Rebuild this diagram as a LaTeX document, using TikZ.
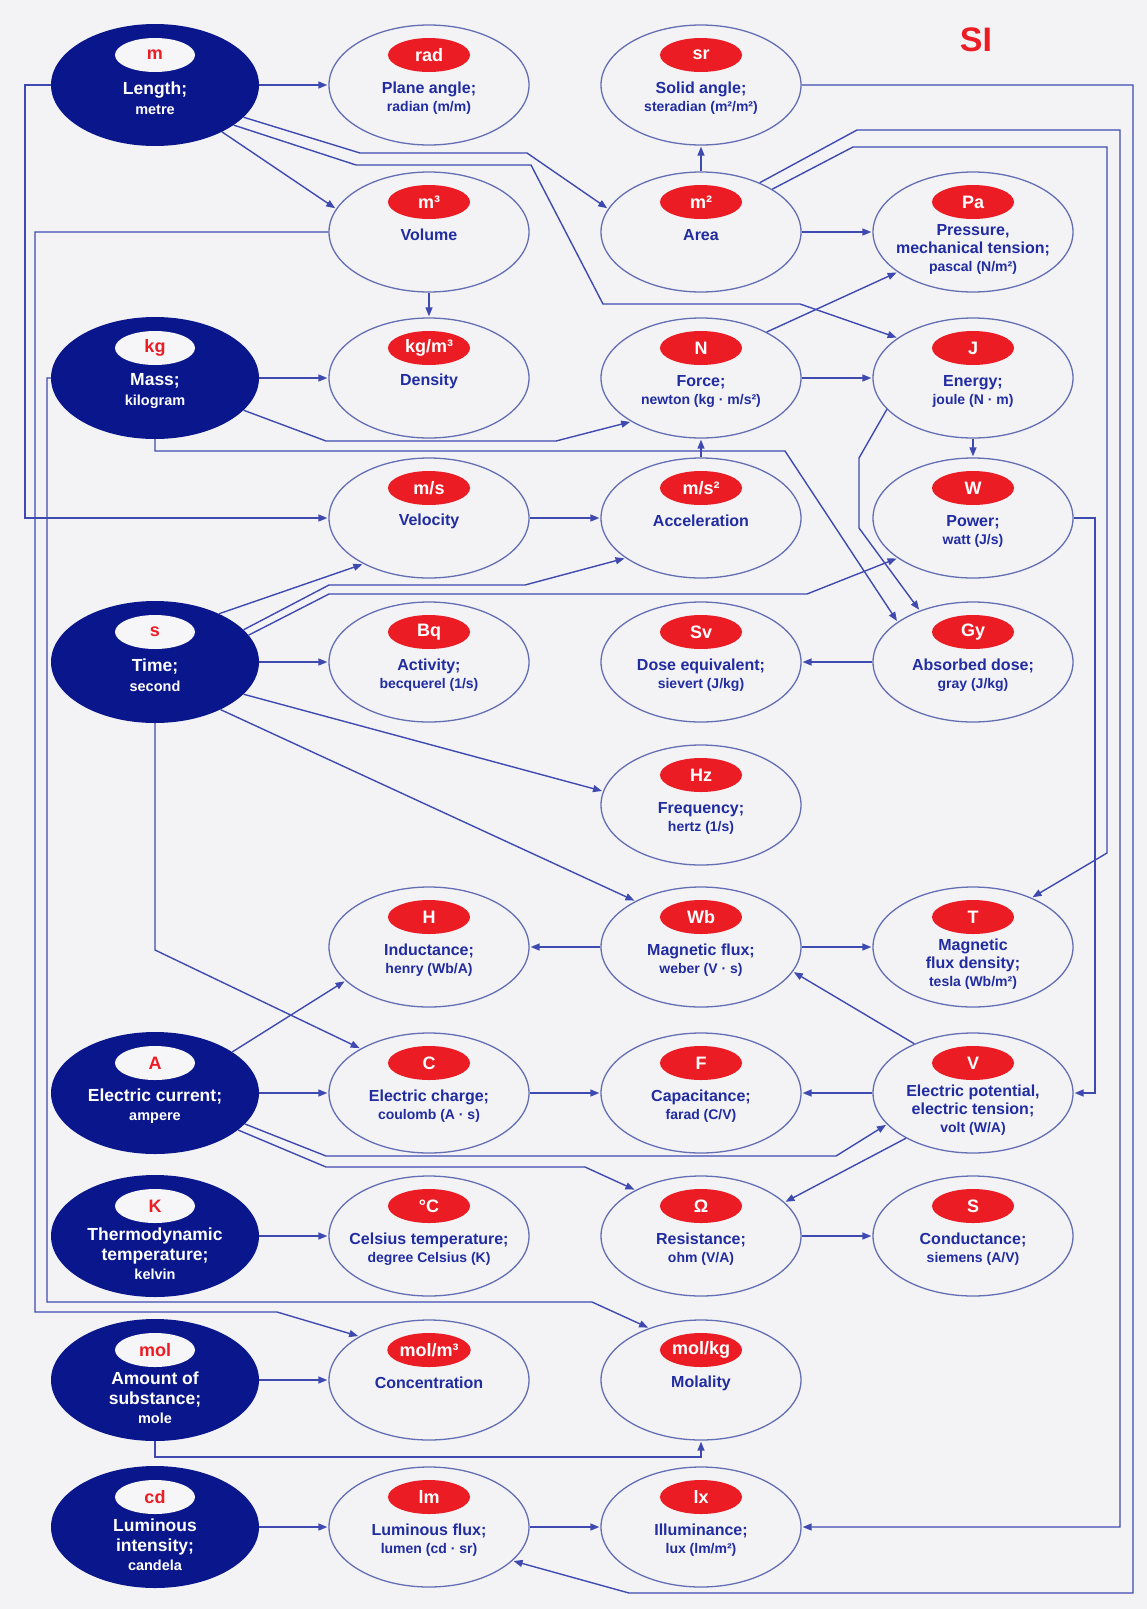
\documentclass[tikz,border=0pt]{standalone}
\usepackage{fontspec}
\setmainfont{Liberation Sans}
\usetikzlibrary{shapes.geometric,arrows.meta}

\definecolor{bg}{RGB}{243,243,246}
\definecolor{navy}{RGB}{10,22,140}
\definecolor{siRed}{RGB}{236,28,36}
\definecolor{txtBlue}{RGB}{32,44,160}
\definecolor{lineBlue}{RGB}{62,74,176}
\definecolor{rimBlue}{RGB}{100,110,178}
\definecolor{innerW}{RGB}{246,246,249}

\newcommand{\unt}[1]{{\fontsize{14}{18}\selectfont #1}}
\newcommand{\dunt}[1]{{\fontsize{14.5}{19.5}\selectfont #1}}

\tikzset{
  wbox/.style={ellipse, draw=rimBlue, line width=1.3pt, fill=bg, minimum width=200pt, minimum height=120pt, inner sep=0pt},
  dbox/.style={ellipse, fill=navy, minimum width=208pt, minimum height=122pt, inner sep=0pt},
  redlab/.style={ellipse, fill=siRed, text=white, minimum width=82pt, minimum height=34pt, inner sep=0pt, font=\bfseries\fontsize{18}{18}\selectfont},
  whitelab/.style={ellipse, fill=innerW, text=siRed, minimum width=80pt, minimum height=34pt, inner sep=0pt, font=\bfseries\fontsize{18}{18}\selectfont},
  wtext/.style={text=txtBlue, align=center, inner sep=0pt, font=\bfseries\fontsize{16}{18}\selectfont},
  dtext/.style={text=white, align=center, inner sep=0pt, font=\bfseries\fontsize{17.5}{19.5}\selectfont},
  conn/.style={draw=lineBlue, line width=1.4pt, -{Triangle[length=9pt,width=7pt]}, shorten >=1pt},
  titlestyle/.style={text=siRed, inner sep=0pt, font=\bfseries\fontsize{34}{34}\selectfont}
}

\newcommand{\wnode}[6]{%
  \node[wbox] (#1) at (#2,#3) {};
  \node[redlab] (#1-s) at (#2,#3-30) {#4};
  \node[wtext] (#1-t) at (#2,#3+#5) {#6};
}
\newcommand{\dnode}[6]{%
  \node[dbox] (#1) at (#2,#3) {};
  \node[whitelab] (#1-s) at (#2,#3-30) {#4};
  \node[dtext] (#1-t) at (#2,#3+#5) {#6};
}

\begin{document}
\begin{tikzpicture}[x={(1pt,0pt)}, y={(0pt,-1pt)}]
\fill[bg] (0,0) rectangle (1147,1609);
\useasboundingbox (0,0) rectangle (1147,1609);

\node[titlestyle] (si) at (976,40) {SI};

\dnode{len}{155}{85}{m}{13}{Length;\\\dunt{metre}}
\wnode{rad}{429}{85}{rad}{13}{Plane angle;\\\unt{radian (m/m)}}
\wnode{sr}{701}{85}{sr}{13}{Solid angle;\\\unt{steradian (m²/m²)}}
\wnode{vol}{429}{232}{m³}{3}{Volume}
\wnode{area}{701}{232}{m²}{3}{Area}
\wnode{pres}{973}{232}{Pa}{17}{Pressure,\\mechanical tension;\\\unt{pascal (N/m²)}}
\dnode{mass}{155}{378}{kg}{13}{Mass;\\\dunt{kilogram}}
\wnode{dens}{429}{378}{kg/m³}{3}{Density}
\wnode{force}{701}{378}{N}{13}{Force;\\\unt{newton (kg · m/s²)}}
\wnode{energy}{973}{378}{J}{13}{Energy;\\\unt{joule (N · m)}}
\wnode{vel}{429}{518}{m/s}{3}{Velocity}
\wnode{acc}{701}{518}{m/s²}{3}{Acceleration}
\wnode{power}{973}{518}{W}{13}{Power;\\\unt{watt (J/s)}}
\dnode{time}{155}{662}{s}{13}{Time;\\\dunt{second}}
\wnode{act}{429}{662}{Bq}{13}{Activity;\\\unt{becquerel (1/s)}}
\wnode{sv}{701}{662}{Sv}{13}{Dose equivalent;\\\unt{sievert (J/kg)}}
\wnode{gy}{973}{662}{Gy}{13}{Absorbed dose;\\\unt{gray (J/kg)}}
\wnode{freq}{701}{805}{Hz}{13}{Frequency;\\\unt{hertz (1/s)}}
\wnode{ind}{429}{947}{H}{13}{Inductance;\\\unt{henry (Wb/A)}}
\wnode{wb}{701}{947}{Wb}{13}{Magnetic flux;\\\unt{weber (V · s)}}
\wnode{tesla}{973}{947}{T}{17}{Magnetic\\flux density;\\\unt{tesla (Wb/m²)}}
\dnode{amp}{155}{1093}{A}{13}{Electric current;\\\dunt{ampere}}
\wnode{charge}{429}{1093}{C}{13}{Electric charge;\\\unt{coulomb (A · s)}}
\wnode{cap}{701}{1093}{F}{13}{Capacitance;\\\unt{farad (C/V)}}
\wnode{volt}{973}{1093}{V}{17}{Electric potential,\\electric tension;\\\unt{volt (W/A)}}
\dnode{kel}{155}{1236}{K}{18}{Thermodynamic\\temperature;\\\dunt{kelvin}}
\wnode{cels}{429}{1236}{°C}{13}{Celsius temperature;\\\unt{degree Celsius (K)}}
\wnode{ohm}{701}{1236}{Ω}{13}{Resistance;\\\unt{ohm (V/A)}}
\wnode{sie}{973}{1236}{S}{13}{Conductance;\\\unt{siemens (A/V)}}
\dnode{mol}{155}{1380}{mol}{18}{Amount of\\substance;\\\dunt{mole}}
\wnode{conc}{429}{1380}{mol/m³}{3}{Concentration}
\wnode{molal}{701}{1380}{mol/kg}{3}{Molality}
\dnode{cd}{155}{1527}{cd}{18}{Luminous\\intensity;\\\dunt{candela}}
\wnode{lm}{429}{1527}{lm}{13}{Luminous flux;\\\unt{lumen (cd · sr)}}
\wnode{lx}{701}{1527}{lx}{13}{Illuminance;\\\unt{lux (lm/m²)}}

% waypoints
\coordinate (la1) at (360,153); \coordinate (la2) at (527,153);
\coordinate (le1) at (356,165); \coordinate (le2) at (531,165);
\coordinate (le3) at (603,304); \coordinate (le4) at (800,304);
\coordinate (mf1) at (326,441); \coordinate (mf2) at (556,441);
\coordinate (mg1) at (155,451); \coordinate (mg2) at (785,451);
\coordinate (eg1) at (859,458); \coordinate (eg2) at (859,528);
\coordinate (lv1) at (25,85); \coordinate (lv2) at (25,518);
\coordinate (ta1) at (329,585); \coordinate (ta2) at (525,585);
\coordinate (tp1) at (329,594); \coordinate (tp2) at (807,594);
\coordinate (tc1) at (155,950);
\coordinate (av1) at (326,1156); \coordinate (av2) at (836,1156);
\coordinate (ao1) at (326,1167); \coordinate (ao2) at (585,1167);
\coordinate (pv1) at (1095,518); \coordinate (pv2) at (1095,1093);
\coordinate (vc1) at (35,232); \coordinate (vc2) at (35,1312); \coordinate (vc3) at (277,1312);
\coordinate (mm1) at (47,378); \coordinate (mm2) at (47,1302); \coordinate (mm3) at (592,1302);
\coordinate (mo1) at (155,1457); \coordinate (mo2) at (701,1457);
\coordinate (al1) at (857,130); \coordinate (al2) at (1120,130); \coordinate (al3) at (1120,1527);
\coordinate (at1) at (853,147); \coordinate (at2) at (1107,147); \coordinate (at3) at (1107,853);
\coordinate (sl1) at (1133,85); \coordinate (sl2) at (1133,1593); \coordinate (sl3) at (629,1593);

% connectors
\draw[conn] (len) -- (rad);
\draw[conn] (len.-35) -- (vol.166);
\draw[conn] (len.-20) -- (la1) -- (la2) -- (area.166);
\draw[conn] (len.-27) -- (le1) -- (le2) -- (le3) -- (le4) -- (energy.152);
\draw[conn] (vol) -- (dens);
\draw[conn] (mass) -- (dens);
\draw[conn] (area) -- (sr);
\draw[conn] (area) -- (pres);
\draw[conn] (force.35) -- (pres.208);
\draw[conn] (force) -- (energy);
\draw[conn] (mass.-20) -- (mf1) -- (mf2) -- (force.212);
\draw[conn] (mass.south) -- (mg1) -- (mg2) -- (gy.152);
\draw[conn] (energy.200) -- (eg1) -- (eg2) -- (gy.136);
\draw[conn] (energy) -- (power);
\draw[conn] (acc) -- (force);
\draw[conn] (vel) -- (acc);
\draw[conn] (len.west) -- (lv1) -- (lv2) -- (vel.west);
\draw[conn] (time.37) -- (vel.215);
\draw[conn] (time.20) -- (ta1) -- (ta2) -- (acc.208);
\draw[conn] (time.16) -- (tp1) -- (tp2) -- (power.208);
\draw[conn] (time) -- (act);
\draw[conn] (gy) -- (sv);
\draw[conn] (time.-20) -- (freq.172);
\draw[conn] (time.-36) -- (wb.145);
\draw[conn] (time.south) -- (tc1) -- (charge.147);
\draw[conn] (wb) -- (ind);
\draw[conn] (wb) -- (tesla);
\draw[conn] (amp.28) -- (ind.202);
\draw[conn] (volt.140) -- (wb.-15);
\draw[conn] (amp) -- (charge);
\draw[conn] (charge) -- (cap);
\draw[conn] (volt) -- (cap);
\draw[conn] (amp.-19) -- (av1) -- (av2) -- (volt.200);
\draw[conn] (amp.-24) -- (ao1) -- (ao2) -- (ohm.145);
\draw[conn] (volt.214) -- (ohm.22);
\draw[conn] (ohm) -- (sie);
\draw[conn] (power.east) -- (pv1) -- (pv2) -- (volt.east);
\draw[conn] (kel) -- (cels);
\draw[conn] (vol.west) -- (vc1) -- (vc2) -- (vc3) -- (conc.148);
\draw[conn] (mass.west) -- (mm1) -- (mm2) -- (mm3) -- (molal.135);
\draw[conn] (mol) -- (conc);
\draw[conn] (mol.south) -- (mo1) -- (mo2) -- (molal.south);
\draw[conn] (cd) -- (lm);
\draw[conn] (lm) -- (lx);
\draw[conn] (area.40) -- (al1) -- (al2) -- (al3) -- (lx.east);
\draw[conn] (area.31) -- (at1) -- (at2) -- (at3) -- (tesla.40);
\draw[conn] (sr.east) -- (sl1) -- (sl2) -- (sl3) -- (lm.-22);
\end{tikzpicture}
\end{document}
